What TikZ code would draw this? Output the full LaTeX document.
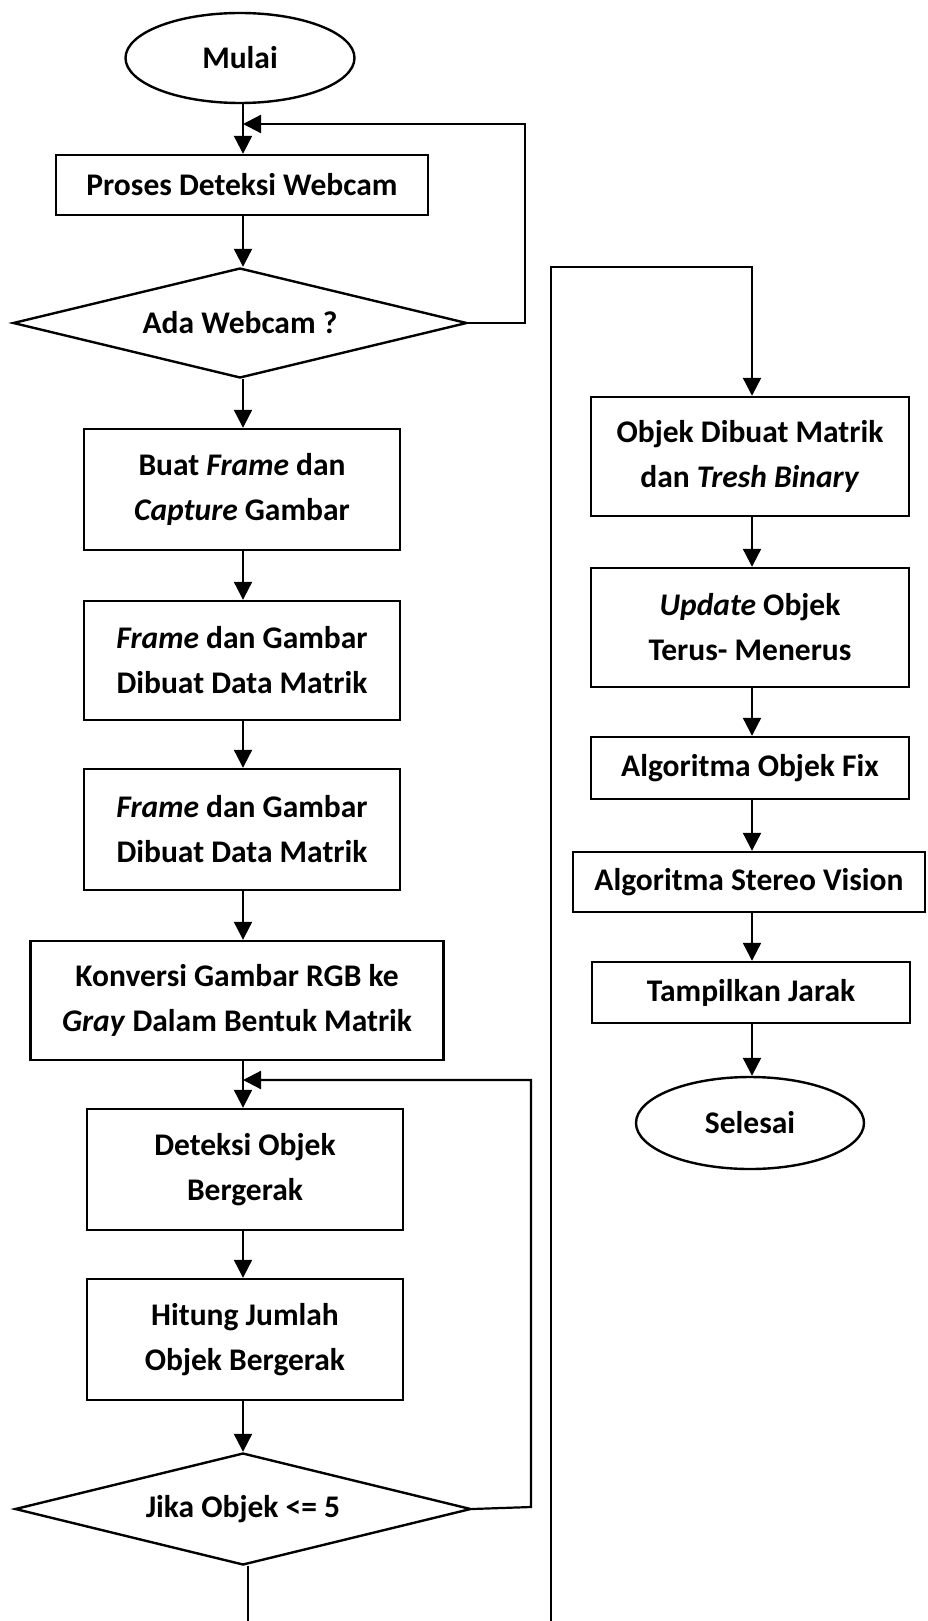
\documentclass[tikz,border=0pt]{standalone}
\usepackage{fontspec}
\setmainfont{Carlito}
\usetikzlibrary{shapes.geometric,arrows.meta}
\tikzset{
  base/.style={draw=black, line width=2.4pt, inner sep=0pt, align=center,
    font=\bfseries\fontsize{31.5}{45}\selectfont, text=black},
  proc/.style={base, rectangle},
  term/.style={base, ellipse},
  dec/.style={base, diamond, aspect=4.13},
  conn/.style={line width=2.2pt, draw=black},
  arr/.style={conn, -{Triangle[width=18pt,length=18pt]}}
}
\begin{document}
\begin{tikzpicture}[x=1pt,y=-1pt]
\useasboundingbox (0,0) rectangle (928,1621);
\clip (0,0) rectangle (928,1621);
\fill[white] (0,0) rectangle (928,1621);
% left column
\node[term, minimum width=229pt, minimum height=90pt] (mulai) at (240,58) {Mulai};
\node[proc, minimum width=372pt, minimum height=60pt] (proses) at (242,185) {Proses Deteksi Webcam};
\node[dec, minimum width=454pt, minimum height=110pt] (ada) at (240,323) {Ada Webcam ?};
\node[proc, minimum width=316pt, minimum height=121pt] (buat) at (242,489.5) {Buat \textit{Frame} dan\\\textit{Capture} Gambar};
\node[proc, minimum width=316pt, minimum height=119pt] (frameA) at (242,660.5) {\textit{Frame} dan Gambar\\Dibuat Data Matrik};
\node[proc, minimum width=316pt, minimum height=121pt] (frameB) at (242,829.5) {\textit{Frame} dan Gambar\\Dibuat Data Matrik};
\node[proc, minimum width=413pt, minimum height=119pt] (konversi) at (237,1000.5) {Konversi Gambar RGB ke\\\textit{Gray} Dalam Bentuk Matrik};
\node[proc, minimum width=316pt, minimum height=121pt] (deteksi) at (245,1169.5) {Deteksi Objek\\Bergerak};
\node[proc, minimum width=316pt, minimum height=121pt] (hitung) at (245,1339.5) {Hitung Jumlah\\Objek Bergerak};
\node[dec, minimum width=456pt, minimum height=112pt] (jika) at (243,1509) {Jika Objek <= 5};
% right column
\node[proc, minimum width=318pt, minimum height=119pt] (objek) at (750,456.5) {Objek Dibuat Matrik\\dan \textit{Tresh Binary}};
\node[proc, minimum width=318pt, minimum height=119pt] (update) at (750,627.5) {\textit{Update} Objek\\Terus- Menerus};
\node[proc, minimum width=318pt, minimum height=62pt] (fix) at (750,768) {Algoritma Objek Fix};
\node[proc, minimum width=352pt, minimum height=60pt] (stereo) at (749,882) {Algoritma Stereo Vision};
\node[proc, minimum width=318pt, minimum height=61pt] (tampil) at (751,992.5) {Tampilkan Jarak};
\node[term, minimum width=228pt, minimum height=92pt] (selesai) at (750,1123) {Selesai};
% junction coordinates
\coordinate (j1) at (243,124);
\coordinate (j2) at (243,1080);
\coordinate (low) at (248,1660);
\coordinate (turn) at (551,267);
\coordinate (rc) at (752,0);
% main flow left
\draw[arr] (mulai.south -| j1) -- (proses.north -| j1);
\draw[arr] (proses.south -| j1) -- (ada.north -| j1);
\draw[arr] (ada.south -| j1) -- (buat.north -| j1);
\draw[arr] (buat.south -| j1) -- (frameA.north -| j1);
\draw[arr] (frameA.south -| j1) -- (frameB.north -| j1);
\draw[arr] (frameB.south -| j1) -- (konversi.north -| j1);
\draw[arr] (konversi.south -| j1) -- (deteksi.north -| j1);
\draw[arr] (deteksi.south -| j1) -- (hitung.north -| j1);
\draw[arr] (hitung.south -| j1) -- (jika.north -| j1);
% loops
\draw[arr] (ada.east) -- (525,323) |- (j1);
\draw[arr] (jika.east) -- (531,1507) |- (j2);
% exit to right column
\draw[arr] (jika.south -| low) -- (low) -| (turn) -| (objek.north -| rc);
% right column flow
\draw[arr] (objek.south -| rc) -- (update.north -| rc);
\draw[arr] (update.south -| rc) -- (fix.north -| rc);
\draw[arr] (fix.south -| rc) -- (stereo.north -| rc);
\draw[arr] (stereo.south -| rc) -- (tampil.north -| rc);
\draw[arr] (tampil.south -| rc) -- (selesai.north -| rc);
\end{tikzpicture}
\end{document}
